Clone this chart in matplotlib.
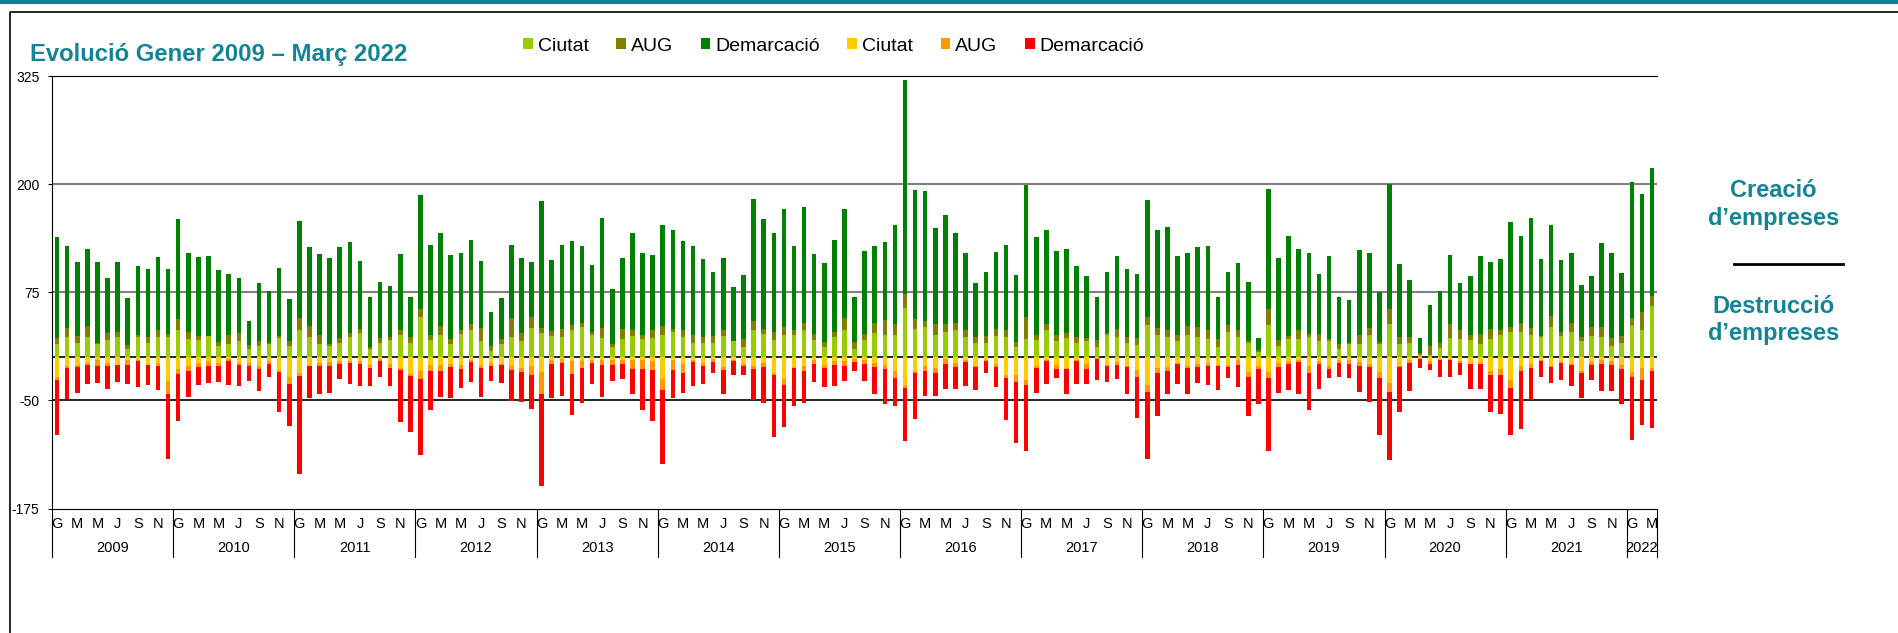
import numpy as np
import matplotlib
matplotlib.use('Agg')
from matplotlib import pyplot as plt
from matplotlib.lines import Line2D

plt.rcParams['font.family'] = ['Liberation Sans', 'DejaVu Sans']
plt.rcParams['axes.unicode_minus'] = False

anys = [str(a) for a in range(2009, 2023)]
mesos = ['G', 'M', 'M', 'J', 'S', 'N']

# Creació d'empreses (gener 2009 - març 2022)
ciutat_pos = [15.5, 23, 17, 23, 15.5, 20, 23, 10, 23, 17, 23, 23,
              32, 20.5, 20, 24, 13.5, 15, 18.5, 10, 13.5, 15.5, 22.5, 13,
              32, 23, 15.5, 13, 17, 23, 27.5, 9, 17, 20, 26, 17,
              46, 20, 25.5, 15.5, 27, 31, 18.5, 7, 15.5, 23, 18.5, 34,
              27.5, 24, 23, 31, 35, 25.5, 21.7, 11.6, 20.5, 24, 21, 22.5,
              25.5, 29, 23, 17, 17, 17, 24, 18.5, 12, 31, 27, 20,
              26, 25.5, 31, 20, 12, 23.6, 31, 10, 20, 27.5, 26, 26,
              56.5, 33, 35, 26, 29.4, 31, 23, 17, 17, 24, 23, 11.6,
              20.5, 20, 31, 18.5, 22.5, 16, 18.5, 11.6, 26, 23, 17, 14,
              37, 25.5, 23, 18.5, 25.5, 23, 21, 11.6, 29, 23, 17, 6,
              37, 13, 21, 21, 23, 18.5, 18.5, 9, 15, 15, 25.5, 15,
              38.7, 15, 17, 2.3, 3, 11, 22.5, 20.5, 20, 15, 20.5, 25.5,
              29, 29, 25.5, 23, 35, 24.4, 29, 18.5, 24.4, 23, 13, 17,
              37, 31, 59]
aug_pos = [7, 11, 7, 13.5, 1, 8, 6, 4, 3, 6, 8, 4,
           12, 9, 5, 1, 4, 11, 9, 4, 5, 1, 2, 6,
           13, 13.5, 10, 2, 5, 5, 5.5, 3, 5, 3.5, 5, 6,
           10, 5.4, 10, 6, 4, 7, 15.5, 6, 6, 22, 9, 13,
           6.6, 6.6, 10, 6, 4, 3.5, 12.4, 4, 12.4, 7, 5, 9,
           11, 4, 8, 9, 6, 8, 7, 0.5, 8.5, 11, 6, 9,
           9, 6, 9, 6.6, 5.4, 5.4, 14, 7.4, 6.6, 11.6, 17.4, 12.4,
           16, 11.6, 7, 12.4, 9, 8, 8, 6, 8, 9, 8, 6,
           26, 6, 7, 7, 5, 7.4, 4, 8, 2, 10, 6.6, 8.5,
           10, 8, 8, 7, 11, 11.6, 10, 9, 8, 8, 2, 2,
           18.6, 6.6, 4, 10, 4, 8, 3, 6, 2, 11, 8.5, 3,
           16.6, 8, 6, 2, 10, 5, 15.5, 10.5, 6, 11.6, 12.4, 5.4,
           6, 11, 8.5, 2, 12.8, 5, 10, 4.6, 11, 12, 9, 7,
           8, 21, 11.6]
dem_pos = [117, 94, 86, 89, 93, 63, 81, 55, 79, 79, 85, 75,
           116, 91, 91, 92.5, 83, 70, 64, 27.5, 67, 60, 79, 48,
           112, 91, 94, 100, 105, 105, 78, 58, 65, 59, 88, 47,
           131, 104.5, 108, 97, 90, 97.5, 77, 39, 47, 85, 87, 63,
           146, 82, 97, 97.5, 89, 78, 126.5, 63.5, 82, 113, 95, 87,
           116.5, 114.5, 103, 103, 91, 73.5, 84, 62, 75, 141, 126.5, 115,
           136, 97, 133.5, 93, 91, 106, 126.5, 52, 96, 89, 90, 114,
           248, 148.6, 150, 111, 126, 104, 90, 63, 73, 89, 99, 77,
           153, 113, 109.5, 97, 97, 82, 71, 50, 70, 84, 78.6, 74,
           135, 114, 119, 91, 84, 93, 97, 49.5, 61, 78, 68, 14,
           139, 95, 115, 94, 94, 70, 96, 55, 49.5, 98, 86, 57,
           145, 85, 66, 17.4, 47, 61, 80.5, 54.6, 68, 90, 77, 83,
           121.5, 100.6, 127, 89, 105, 83, 81, 60, 58, 97.5, 99, 73.5,
           157.5, 137, 148]

# Destrucció d'empreses
ciutat_neg = [23, 10, 8.5, 6.6, 3.5, 6.6, 8.5, 3.5, 3, 8.5, 6.6, 27,
              14, 10.5, 6.6, 4.6, 6.6, 2, 6.6, 7, 10.5, 4.6, 15.5, 23,
              18, 10, 6.6, 6, 4.6, 4.6, 4.6, 8.5, 2, 8, 12, 19,
              15.5, 8.5, 8.5, 8, 9, 3.5, 8.5, 6.6, 8, 10, 12, 10.5,
              17, 3.5, 2, 4.6, 4.6, 3.5, 3.5, 3.5, 3.5, 3, 3, 4.6,
              25, 3.5, 8, 3, 7, 2, 11.6, 3.5, 8, 10.5, 6.6, 18,
              25, 11, 10.5, 3.5, 9, 4.6, 4.6, 2, 3.5, 7, 8.5, 16,
              32, 15.5, 10, 12.4, 2, 6.6, 3.5, 10.5, 3.5, 8, 21, 20,
              26, 10.5, 3.5, 8.5, 12.4, 3.5, 8, 1, 9, 6, 10, 15,
              32, 13, 11, 7, 10.5, 8, 6.6, 9, 9, 3.5, 17, 10,
              17, 6.6, 4.6, 3, 10.5, 4.6, 10.5, 3.5, 3.5, 6, 7.4, 17,
              30, 10.5, 3.5, 1, 4, 2, 2, 4.6, 7.4, 7.4, 16, 13.5,
              26, 10.5, 8, 3.5, 10.5, 6, 8, 16, 6, 3.5, 4.6, 9,
              17, 12.4, 12.4]
aug_neg = [3, 2, 3, 2, 7, 3, 1, 6, 1, 1, 4, 16,
           5, 5, 5, 6, 4, 2, 2, 3, 3, 3, 2, 8,
           4, 0.5, 4, 4.6, 3, 2, 3, 4, 2, 4.6, 3, 3,
           10, 7, 7, 3.5, 5, 2.3, 4, 4, 1.5, 5, 5, 10.5,
           26, 4, 4.6, 15, 8, 3, 6, 5, 4, 10.5, 10.5, 10.5,
           13, 11, 10, 2, 3, 3, 3, 1, 2, 3, 4.6, 3,
           6.6, 2, 6, 4, 3, 4, 5, 4, 4, 4, 4.6, 8,
           4, 3, 5.4, 6, 6, 4.6, 2.3, 1, 1, 3, 3, 9,
           6.6, 2, 1, 4.6, 1, 1, 5.4, 1, 1, 3, 1, 8,
           8.5, 5, 5, 1, 2, 3.5, 3, 1, 2, 6, 6, 4,
           7, 4.6, 3, 3, 8, 3, 3, 3, 4, 4, 4, 7,
           9.7, 1, 3, 1, 4, 1.5, 1.5, 2, 1, 1, 4.6, 7.4,
           9.7, 6, 4.6, 1, 1, 1, 1.5, 2, 3, 4, 4, 5,
           6, 13.5, 4]
dem_neg = [64, 36, 30, 22, 19, 27, 19, 21, 31, 23, 27, 75,
           55, 30, 20, 19, 18, 28, 25, 17, 26, 15.5, 46, 49,
           113, 37, 32, 31, 18, 24, 26, 21, 19, 21, 60, 65,
           87, 46, 31, 36, 22, 23, 33, 17, 20, 36, 35, 39,
           106, 40, 38, 47, 40, 24, 36, 18.6, 18, 29, 47.6, 59,
           86, 33, 23, 28, 21, 13.5, 28, 16.6, 10.5, 36, 42, 71,
           49.5, 43, 36, 21.7, 22.4, 24.4, 18, 10.5, 20, 31, 40.6, 32,
           61, 53, 29.4, 26, 28.6, 25, 27, 26, 13.5, 24, 48, 70,
           75.5, 29, 26, 11, 29.4, 26, 18, 24.4, 19, 16, 32, 47,
           77, 49.5, 26, 23, 30, 18.6, 23, 28, 13, 24.4, 44.5, 40,
           84, 30, 30, 37, 42.6, 29, 10, 16, 17, 30.6, 40, 66,
           79, 52, 32, 10, 6.6, 19, 19, 13.5, 28, 28, 42.6, 44.5,
           54, 66, 37, 18.6, 18, 19, 23.6, 29, 17, 32, 30, 40.6,
           73, 53, 66]

teal = '#138496'
n = len(ciutat_pos)
x = np.arange(n)
cp, ap, dp = np.array(ciutat_pos), np.array(aug_pos), np.array(dem_pos)
cn, an, dn = np.array(ciutat_neg), np.array(aug_neg), np.array(dem_neg)

fig = plt.figure(figsize=(18.99, 6.33), dpi=100)
ax = fig.add_axes([0.0274, 0.1965, 0.8452, 0.6834])

w = 0.45
b1 = ax.bar(x, cp, w, color='#99CC00', label='Ciutat', zorder=3)
b2 = ax.bar(x, ap, w, bottom=cp, color='#808000', label='AUG', zorder=3)
b3 = ax.bar(x, dp, w, bottom=cp + ap, color='#008000', label='Demarcació', zorder=3)
b4 = ax.bar(x, -cn, w, color='#FFCC00', label='Ciutat', zorder=3)
b5 = ax.bar(x, -an, w, bottom=-cn, color='#FF9900', label='AUG', zorder=3)
b6 = ax.bar(x, -dn, w, bottom=-(cn + an), color='#FF0000', label='Demarcació', zorder=3)

# línies horitzontals
ax.axhline(200, color='#808080', lw=1.5, zorder=1)
ax.axhline(75, color='#808080', lw=1.5, zorder=1)
ax.axhline(0, color='black', lw=1.2, zorder=2)
ax.axhline(-50, color='black', lw=1.2, zorder=2)

ax.set_xlim(-0.5, n - 0.5)
ax.set_ylim(-175, 325)
ax.set_yticks([-175, -50, 75, 200, 325])
ax.tick_params(axis='y', length=3, pad=6, labelsize=10)
ax.spines['right'].set_visible(False)

# mesos (cada dos) i anys
ax.set_xticks(x[::2])
ax.set_xticklabels([mesos[(i % 12) // 2] for i in x[::2]])
ax.tick_params(axis='x', length=0, pad=6, labelsize=10.5)
tr = ax.get_xaxis_transform()
limits = list(np.arange(-0.5, n, 12)) + [n - 0.5]
for xl in limits:
    ax.plot([xl, xl], [0, -0.112], color='black', lw=0.8, transform=tr, clip_on=False)
for k, a in enumerate(anys):
    meses_any = x[12 * k: 12 * k + 12]
    ax.text(meses_any.mean(), -0.092, a, transform=tr, ha='center', va='center', fontsize=10.5)

# títol i llegenda
fig.text(0.016, 0.914, 'Evolució Gener 2009 – Març 2022', fontsize=17.2, fontweight='bold',
         color=teal, va='center', ha='left')
fig.legend(handles=[b1, b2, b3, b4, b5, b6], loc='center', bbox_to_anchor=(0.439, 0.927), ncol=6,
           frameon=False, fontsize=14, handlelength=0.5, handleheight=0.5, handletextpad=0.25,
           columnspacing=1.42)

# text de la dreta
fig.text(0.934, 0.677, 'Creació\nd’empreses', ha='center', va='center', fontsize=17,
         fontweight='bold', color=teal, linespacing=1.25)
fig.text(0.934, 0.494, 'Destrucció\nd’empreses', ha='center', va='center', fontsize=17,
         fontweight='bold', color=teal, linespacing=1.2)
fig.add_artist(Line2D([1734 / 1899, 1843 / 1899], [0.583, 0.583], color='black', lw=2))

# marc
fig.add_artist(Line2D([0, 1], [0.997, 0.997], color='#0F7F92', lw=3))
fig.add_artist(Line2D([0.0053, 0.0053, 1], [0, 0.981, 0.981], color='black', lw=1.2))

fig.savefig('out.png', dpi=100)
